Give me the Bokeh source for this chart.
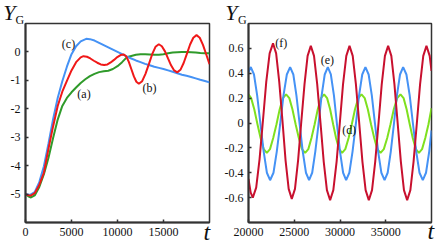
from bokeh.plotting import figure
from bokeh.layouts import row, column
from bokeh.models import Range1d, FixedTicker, Label, CustomJSTickFormatter, Div
from bokeh.embed import file_html
from bokeh.resources import INLINE

FONT = "Liberation Serif"

# ---------------- left panel data (t, Y_G) ----------------
a_t = [0, 300, 600, 1000, 1500, 2000, 2500, 3000, 3500, 4000, 4500, 5000, 5500, 6000, 6500,
       7000, 7500, 8000, 8500, 9000, 9500, 10000, 10500, 11000, 11500, 12000, 12500, 13000,
       13500, 14000, 14500, 15000, 15500, 16000, 16500, 17000, 17500, 18000, 18500, 19000,
       19500, 20000]
a_y = [-5.00, -5.08, -5.12, -5.05, -4.75, -4.30, -3.72, -3.03, -2.38, -1.90, -1.62, -1.42,
       -1.25, -1.09, -0.96, -0.85, -0.77, -0.71, -0.68, -0.66, -0.60, -0.50, -0.36, -0.19,
       -0.14, -0.10, -0.08, -0.08, -0.09, -0.10, -0.10, -0.08, -0.05, -0.02, -0.01, 0.00,
       0.00, -0.01, -0.02, -0.04, -0.05, -0.05]

b_t = [0, 300, 600, 1000, 1500, 2000, 2500, 3000, 3500, 4000, 4500, 5000, 5500, 6000, 6300,
       6680, 7050, 7430, 7800, 8180, 8550, 8910, 9260, 9620, 9980, 10330, 10690,
       10960, 11230, 11510, 11780, 12050, 12320, 12680, 13040, 13410, 13770, 14130, 14490,
       14820, 15160, 15490, 15820, 16160, 16490, 16840, 17190, 17540, 17890, 18240, 18590,
       18940, 19290, 19640, 20000]
b_y = [-5.00, -5.04, -5.05, -4.97, -4.68, -4.25, -3.40, -2.62, -1.90, -1.40, -1.02, -0.65,
       -0.36, -0.19, -0.15, -0.17, -0.23, -0.31, -0.38, -0.44, -0.46, -0.44, -0.37, -0.28,
       -0.18, -0.11, -0.09, -0.16, -0.35, -0.61, -0.86, -1.05, -1.12, -1.03, -0.77, -0.43,
       -0.08, 0.18, 0.27, 0.20, 0.02, -0.23, -0.47, -0.65, -0.72, -0.63, -0.39, -0.07,
       0.26, 0.50, 0.59, 0.50, 0.25, -0.08, -0.43]

c_t = [0, 500, 1000, 1500, 2000, 2500, 3000, 3500, 4000, 4500, 5000, 5500, 6000, 6600, 7000,
       7500, 8000, 8500, 9000, 9500, 10000, 10500, 11000, 11500, 12000, 12500, 13000, 13500,
       14000, 14500, 15000, 15500, 16000, 16500, 17000, 17500, 18000, 18500, 19000, 19500,
       20000]
c_y = [-5.00, -5.03, -4.93, -4.58, -4.02, -3.22, -2.37, -1.62, -1.03, -0.52, -0.08, 0.20,
       0.37, 0.46, 0.45, 0.40, 0.32, 0.24, 0.16, 0.08, 0.00, -0.08, -0.16, -0.23, -0.30,
       -0.36, -0.42, -0.47, -0.52, -0.56, -0.60, -0.65, -0.70, -0.75, -0.80, -0.84, -0.88,
       -0.93, -0.98, -1.02, -1.07]

# ---------------- right panel data (t, Y_G) ----------------
d_t = [20000, 20290, 20630, 20980, 21320, 21660, 22000, 22350, 22700, 23060, 23410, 23760,
       24110, 24460, 24800, 25150, 25500, 25840, 26190, 26540, 26880, 27230, 27570, 27920,
       28260, 28590, 28920, 29250, 29570, 29900, 30230, 30580, 30940, 31290, 31640, 32000,
       32350, 32700, 33040, 33390, 33740, 34080, 34430, 34790, 35160, 35520, 35880, 36250,
       36610, 36950, 37280, 37620, 37950, 38290, 38620, 38970, 39320, 39670, 40000]
d_y = [0.23, 0.20, 0.11, -0.01, -0.12, -0.21, -0.24, -0.21, -0.12, -0.01, 0.11, 0.20,
       0.23, 0.20, 0.11, -0.01, -0.12, -0.21, -0.24, -0.21, -0.12, -0.01, 0.11, 0.20,
       0.23, 0.20, 0.11, -0.01, -0.12, -0.21, -0.24, -0.21, -0.12, -0.01, 0.11, 0.20,
       0.23, 0.20, 0.11, -0.01, -0.12, -0.21, -0.24, -0.21, -0.12, -0.01, 0.11, 0.20,
       0.23, 0.20, 0.11, -0.01, -0.12, -0.21, -0.24, -0.21, -0.12, -0.01, 0.12]

e_t = [20000, 20250, 20600, 20950, 21310, 21660, 22010, 22360, 22730, 23090, 23460, 23820,
       24190, 24550, 24900, 25240, 25590, 25930, 26280, 26620, 26960, 27300, 27650, 27990,
       28330, 28670, 29000, 29340, 29670, 30000, 30340, 30670, 31020, 31370, 31730, 32080,
       32430, 32780, 33130, 33480, 33830, 34170, 34520, 34870, 35210, 35550, 35890, 36220,
       36560, 36900, 37260, 37620, 37980, 38330, 38690, 39050, 39400, 39750, 40000]
e_y = [0.41, 0.45, 0.39, 0.22, -0.01, -0.23, -0.40, -0.46, -0.40, -0.23, -0.01, 0.22,
       0.39, 0.45, 0.39, 0.22, -0.01, -0.23, -0.40, -0.46, -0.40, -0.23, -0.01, 0.22,
       0.39, 0.45, 0.39, 0.22, -0.01, -0.23, -0.40, -0.46, -0.40, -0.23, -0.01, 0.22,
       0.39, 0.45, 0.39, 0.22, -0.01, -0.23, -0.40, -0.46, -0.40, -0.23, -0.01, 0.22,
       0.39, 0.45, 0.39, 0.22, -0.01, -0.23, -0.40, -0.46, -0.40, -0.23, -0.06]

f_t = [20000, 20240, 20470, 20840, 21210, 21580, 21940, 22310, 22680, 23020, 23360, 23710,
       24050, 24390, 24730, 25080, 25420, 25770, 26120, 26460, 26810, 27160, 27510, 27870,
       28220, 28570, 28920, 29270, 29630, 29980, 30330, 30690, 31040, 31390, 31740, 32100,
       32450, 32800, 33150, 33500, 33850, 34210, 34560, 34910, 35260, 35610, 35950, 36300,
       36650, 36990, 37340, 37690, 38040, 38400, 38750, 39100, 39450, 39800, 40000]
f_y = [-0.45, -0.56, -0.60, -0.52, -0.29, 0.02, 0.33, 0.56, 0.64, 0.56, 0.33, 0.02,
       -0.30, -0.53, -0.61, -0.53, -0.30, 0.01, 0.31, 0.54, 0.62, 0.54, 0.31, 0.00,
       -0.31, -0.54, -0.62, -0.54, -0.31, 0.00, 0.31, 0.54, 0.62, 0.54, 0.31, 0.00,
       -0.31, -0.54, -0.62, -0.54, -0.31, 0.00, 0.31, 0.54, 0.62, 0.54, 0.31, 0.00,
       -0.31, -0.54, -0.62, -0.54, -0.31, 0.00, 0.31, 0.54, 0.62, 0.54, 0.42]

left_xticks = [0, 5000, 10000, 15000]
left_yticks = [-5, -4, -3, -2, -1, 0]
right_xticks = [20000, 25000, 30000, 35000]
right_yticks = [-0.6, -0.4, -0.2, 0, 0.2, 0.4, 0.6]
curve_labels_left = ["(c)", "(a)", "(b)"]
curve_labels_right = ["(f)", "(e)", "(d)"]
y_title = ("Y", "G")
x_title = "t"

AX = "#333333"


def style(p, xticks, yticks, yfmt):
    p.xaxis.ticker = FixedTicker(ticks=xticks)
    p.yaxis.ticker = FixedTicker(ticks=yticks)
    p.xaxis.formatter = CustomJSTickFormatter(code="return tick.toFixed(0);")
    p.yaxis.formatter = CustomJSTickFormatter(code=yfmt)
    p.xgrid.visible = False
    p.ygrid.visible = False
    for ax in (p.xaxis[0], p.yaxis[0]):
        ax.axis_line_width = 2
        ax.axis_line_color = AX
        ax.major_tick_in = 3
        ax.major_tick_out = 0
        ax.minor_tick_in = 0
        ax.minor_tick_out = 0
        ax.major_tick_line_color = AX
        ax.major_tick_line_width = 1.5
        ax.major_label_text_font = FONT
        ax.major_label_text_font_size = "12px"
        ax.major_label_text_color = "#111111"
        ax.major_label_standoff = 5
    p.outline_line_color = AX
    p.outline_line_width = 1.5
    p.outline_line_alpha = 1.0


def lab(p, x, y, text):
    p.add_layout(Label(x=x, y=y, text=text, text_font=FONT, text_font_size="12px",
                       text_align="center", text_baseline="middle", text_color="#111111"))


p1 = figure(frame_width=184, frame_height=199, x_range=Range1d(0, 20000), y_range=Range1d(-6, 1),
            output_backend="svg", toolbar_location=None,
            min_border_left=25, min_border_right=9, min_border_top=23, min_border_bottom=22)
style(p1, left_xticks, left_yticks, "return tick.toFixed(0);")
p1.line(a_t, a_y, line_color="#2f9a2a", line_width=2)
p1.line(c_t, c_y, line_color="#4592f5", line_width=2)
p1.line(b_t, b_y, line_color="#f01818", line_width=2)
lab(p1, 4674, 0.29, curve_labels_left[0])
lab(p1, 6360, -1.48, curve_labels_left[1])
lab(p1, 13480, -1.26, curve_labels_left[2])

p2 = figure(frame_width=183, frame_height=199, x_range=Range1d(20000, 40000), y_range=Range1d(-0.8, 0.8),
            output_backend="svg", toolbar_location=None,
            min_border_left=30, min_border_right=4, min_border_top=23, min_border_bottom=22)
style(p2, right_xticks, right_yticks,
      "return Math.abs(tick) < 1e-9 ? '0' : tick.toFixed(1);")
p2.line(d_t, d_y, line_color="#7fe01f", line_width=2)
p2.line(e_t, e_y, line_color="#4592f5", line_width=2)
p2.line(f_t, f_y, line_color="#c8102e", line_width=2)
lab(p2, 23585, 0.64, curve_labels_right[0])
lab(p2, 28613, 0.51, curve_labels_right[1])
lab(p2, 31017, -0.056, curve_labels_right[2])


def span(left, top, size, text, italic):
    st = "font-style:italic;" if italic else ""
    return ('<span style="position:absolute;left:%.1fpx;top:%.1fpx;font-size:%dpx;line-height:1;%s">%s</span>'
            % (left, top, size, st, text))


html = ('<div style="position:relative;width:436px;height:245px;font-family:\'Liberation Serif\',serif;color:#111111;">'
        + span(3.3, 1.6, 22, y_title[0], True) + span(15.5, 14.0, 12, y_title[1], False)
        + span(203.5, 220.0, 24, x_title, True)
        + span(225.3, 1.6, 22, y_title[0], True) + span(238.0, 13.5, 12, y_title[1], False)
        + span(427.5, 218.5, 24, x_title, True)
        + '</div>')
overlay = Div(text=html, width=436, height=245, margin=0,
              styles={"position": "absolute", "left": "0px", "top": "0px",
                      "pointer-events": "none", "z-index": "10"})

layout = column(row(p1, p2), overlay)
open("out.html", "w").write(file_html(layout, INLINE))
